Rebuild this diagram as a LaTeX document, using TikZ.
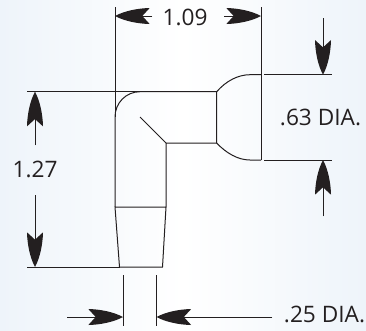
\documentclass[tikz,border=0pt]{standalone}
\usepackage{fontspec}
\setmainfont{Open Sans}
\usetikzlibrary{arrows.meta}
\definecolor{ink}{HTML}{231F20}
\definecolor{bgl}{HTML}{EEF4FA}
\pgfdeclarearrow{
  name=Barb,
  setup code={
    \pgfarrowssettipend{0pt}
    \pgfarrowssetbackend{-26pt}
    \pgfarrowssetlineend{-18pt}
    \pgfarrowshullpoint{0pt}{0pt}
    \pgfarrowshullpoint{-26pt}{6pt}
    \pgfarrowshullpoint{-26pt}{-6pt}
  },
  drawing code={
    \pgfpathmoveto{\pgfpoint{0pt}{0pt}}
    \pgfpathcurveto{\pgfpoint{-7pt}{3.8pt}}{\pgfpoint{-17pt}{5.8pt}}{\pgfpoint{-26pt}{6pt}}
    \pgfpathlineto{\pgfpoint{-20.5pt}{0pt}}
    \pgfpathlineto{\pgfpoint{-26pt}{-6pt}}
    \pgfpathcurveto{\pgfpoint{-17pt}{-5.8pt}}{\pgfpoint{-7pt}{-3.8pt}}{\pgfpoint{0pt}{0pt}}
    \pgfpathclose
    \pgfusepathqfill
  }
}
\tikzset{
  part/.style={draw=ink,line width=0.75pt},
  dimline/.style={draw=ink,line width=0.7pt},
  dimarrow/.style={draw=ink,fill=ink,line width=0.7pt,-{Barb}},
  dimtext/.style={text=ink,font=\fontsize{17}{19}\selectfont,inner sep=0pt,anchor=base}
}
\begin{document}
\begin{tikzpicture}[x=0.75pt,y=-0.75pt]
\useasboundingbox (0,0) rectangle (366,330);
\shade[left color=bgl,right color=white] (0,0) rectangle (183,330);
\shade[left color=white,right color=bgl] (183,0) rectangle (366,330);
% coordinates
\coordinate (extLT) at (115,7);
\coordinate (extRT) at (261,7);
\coordinate (extRB) at (261,160);
\coordinate (a) at (115,117);
\coordinate (b) at (140,91.7);
\coordinate (c) at (216.7,91.7);
\coordinate (d) at (216.7,143);
\coordinate (e) at (166,143);
\coordinate (f) at (140,117);
\coordinate (g) at (166,207);
\coordinate (h) at (115,207);
\coordinate (i) at (119.5,267);
\coordinate (j) at (162.5,267);
\coordinate (k) at (250,74.7);
\coordinate (l) at (250,160);
% part
\draw[part] (h) -- (a) .. controls (115,103) and (126,91.7) .. (b) -- (c) -- (d) -- (e) -- (g) -- (h) -- (i) -- (j) -- (g);
\draw[part] (f) -- (e);
\draw[part] (c) .. controls (226,81) and (238,74.7) .. (k) -- (261,74.7);
\draw[part] (d) .. controls (226,153) and (238,160) .. (l) -- (extRB);
% extension lines
\draw[dimline] (extLT) -- (a);
\draw[dimline] (extRT) -- (extRB);
\draw[dimline] (27,91.7) -- (b);
\draw[dimline] (27,267) -- (i);
\draw[dimline] (264,74.7) -- (332,74.7);
\draw[dimline] (264,160) -- (332,160);
\draw[dimline] (123,275) -- (123,326);
\draw[dimline] (156.5,275) -- (156.5,326);
% arrows
\draw[dimarrow] (152,16) -- (115,16);
\draw[dimarrow] (224,16) -- (261,16);
\draw[dimarrow] (323,18) -- (323,74.7);
\draw[dimarrow] (323,216) -- (323,160);
\draw[dimarrow] (35,145) -- (35,91.7);
\draw[dimarrow] (35,195) -- (35,267);
\draw[dimarrow] (67,317) -- (123,317);
\draw[dimarrow] (272,317) -- (156.5,317);
% labels
\node[dimtext] (t109) at (185,25) {1.09};
\node[dimtext] (t127) at (35,177) {1.27};
\node[dimtext] (t63) at (320.5,125) {.63 DIA.};
\node[dimtext] (t25) at (324.5,322.5) {.25 DIA.};
\end{tikzpicture}
\end{document}
